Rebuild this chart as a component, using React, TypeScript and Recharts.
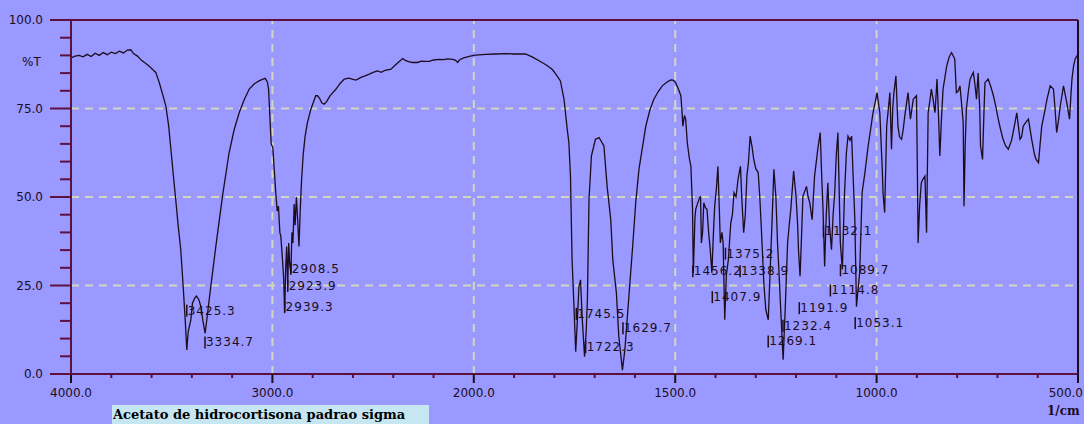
import React from "react";
import {
  ComposedChart,
  Line,
  Scatter,
  XAxis,
  YAxis,
  ReferenceLine,
} from "recharts";

// 4000-2000 cm-1 (compressed half of the axis)
const highWn = [
  4000, 3980, 3960, 3940, 3920, 3900, 3880, 3860, 3840, 3820, 3800, 3780, 3760, 3740, 3720, 3703,
  3690, 3670, 3650, 3630, 3610, 3595, 3579, 3560, 3545, 3529, 3515, 3504, 3490, 3480, 3468, 3455,
  3443, 3433, 3425, 3418, 3405, 3397, 3385, 3377, 3365, 3355, 3345, 3334, 3320, 3306, 3281, 3248,
  3215, 3190, 3165, 3140, 3115, 3090, 3066, 3050, 3036, 3025, 3019, 3012, 3006, 2998, 2990, 2983,
  2976, 2970, 2963, 2958, 2950, 2944, 2939, 2934, 2929, 2924, 2919, 2914, 2908, 2903, 2898, 2892,
  2887, 2881, 2875, 2868, 2862, 2855, 2847, 2838, 2826, 2809, 2795, 2785, 2776, 2765, 2755, 2743,
  2730, 2715, 2700, 2684, 2665, 2643, 2620, 2600, 2585, 2560, 2540, 2519, 2500, 2478, 2460, 2440,
  2411, 2395, 2370, 2353, 2340, 2320, 2304, 2280, 2260, 2240, 2221, 2200, 2171, 2150, 2130, 2105,
  2090, 2080, 2070, 2050, 2022, 2000,
];
const highT = [
  89.3, 89.8, 90.0, 89.6, 90.3, 89.7, 90.6, 90.0, 90.8, 90.2, 90.9, 90.5, 91.2, 90.7, 91.5, 91.6,
  90.5, 89.8, 88.6, 87.8, 86.9, 86.0, 85.2, 82, 79, 75.7, 70, 63.5, 55, 49.3, 42, 35.1,
  24.7, 15.3, 6.8, 12, 15.3, 20, 21.5, 22, 21, 19, 15, 11.5, 18, 24.7, 36, 50.2,
  62.5, 69, 73.8, 77.5, 80.5, 82, 82.8, 83.2, 83.5, 82.5, 80.5, 72, 65, 64, 57, 51,
  46, 47.4, 40, 38.9, 32.3, 27, 17.5, 30, 36, 24.5, 37, 31, 28.5, 40, 37, 48,
  42, 50, 44, 36, 46, 55, 62, 67, 71, 74.8, 77, 78.6, 78.6, 77.8, 76.6, 76.2,
  77, 78.5, 79.5, 80.5, 82, 83.3, 83.6, 83.2, 83, 83.8, 84.2, 84.7, 85.2, 85.6, 85.2, 85.8,
  86.1, 87, 88.3, 89.1, 88.6, 88.2, 88, 88, 88.4, 88.3, 88.3, 88.7, 88.9, 88.8, 89, 88.9,
  88.6, 88, 88.8, 89.3, 89.7, 90.0,
];

// 2000-1500 cm-1
const carbonylWn = [
  1996, 1970, 1946, 1920, 1900, 1872, 1855, 1838, 1820, 1805, 1795, 1785, 1776, 1768, 1764, 1760,
  1756, 1751, 1747, 1743, 1739, 1735, 1731, 1725, 1721, 1718, 1714, 1708, 1698, 1689, 1677, 1669,
  1660, 1655, 1646, 1640, 1631, 1625, 1615, 1605, 1598, 1590, 1580, 1573, 1563, 1553, 1542, 1532,
  1520, 1511, 1505, 1499,
];
const carbonylT = [
  90.1, 90.3, 90.4, 90.5, 90.4, 90.4, 89.6, 88.5, 87.3, 86, 84.5, 82.8, 77.6, 69.1, 65.4, 55.9,
  32.3, 18.1, 6.3, 15, 24.7, 26.6, 16, 4.9, 12, 21, 49.3, 61.6, 66.3, 66.8, 64.4, 53,
  43.6, 32.3, 22.9, 10.6, 1.1, 6.8, 21.9, 37, 48.4, 57.8, 65, 70, 74.5, 77.6, 79.8, 81.4,
  82.5, 83.1, 83, 82.3,
];

// 1500-500 cm-1 fingerprint region
const fingerWn = [
  1492, 1486, 1483, 1481, 1477, 1474, 1470, 1465, 1461, 1457, 1455, 1451, 1449, 1445, 1441, 1437,
  1435, 1432, 1429, 1425, 1421, 1417, 1413, 1409, 1405, 1402, 1398, 1394, 1390, 1388, 1384, 1381,
  1377, 1373, 1368, 1362, 1358, 1354, 1349, 1344, 1338, 1334, 1330, 1326, 1322, 1318, 1314, 1309,
  1305, 1300, 1294, 1290, 1286, 1280, 1275, 1269, 1264, 1260, 1255, 1250, 1246, 1242, 1238, 1232,
  1227, 1221, 1217, 1213, 1206, 1200, 1196, 1194, 1190, 1186, 1183, 1174, 1170, 1166, 1160, 1154,
  1146, 1140, 1136, 1133, 1129, 1125, 1121, 1117, 1112, 1108, 1104, 1100, 1096, 1090, 1085, 1080,
  1075, 1071, 1066, 1062, 1058, 1054, 1050, 1046, 1042, 1036, 1029, 1021, 1015, 1009, 1003, 999,
  992, 986, 984, 980, 977, 975, 967, 963, 960, 957, 952, 947, 943, 938, 934, 930,
  922, 916, 909, 901, 899, 897, 893, 889, 885, 880, 876, 872, 868, 864, 859, 855,
  850, 846, 843, 839, 835, 826, 820, 814, 806, 802, 797, 793, 788, 785, 783, 780,
  777, 772, 768, 760, 756, 752, 748, 744, 742, 737, 734, 731, 723, 716, 710, 704,
  698, 692, 686, 680, 673, 665, 658, 652, 648, 644, 640, 636, 630, 623, 615, 608,
  604, 598, 594, 590, 583, 577, 569, 561, 557, 553, 548, 544, 536, 528, 524, 521,
  518, 515, 511, 507, 500,
];
const fingerT = [
  80.5, 78.6, 74, 70, 73, 72, 65.4, 61, 58.7, 46.5, 28.5, 44, 46.5, 48, 49.3, 50.2,
  37, 40, 48.4, 47, 46.5, 40, 35.1, 28.6, 40, 47.4, 52, 58.7, 45, 37, 40, 37,
  15.3, 28, 32.3, 42.7, 45, 51.2, 50, 55, 58.7, 48, 39.9, 45, 55.9, 60, 67.2, 64,
  60.6, 58, 56.9, 50, 40.8, 25.7, 18.1, 15.3, 30, 41.7, 57.8, 50, 37, 28, 18.1, 4,
  18, 37, 42, 46.5, 57.3, 50.2, 42, 35.1, 27.6, 40, 50.2, 53, 50, 48.4, 43.6, 55.9,
  63.5, 68.2, 55, 46.5, 30.4, 45, 54, 42, 35.1, 45, 51.2, 62, 68.2, 37, 29.5, 50,
  62.5, 67.2, 66, 67.2, 55, 43.6, 19, 24, 28.6, 51.2, 56.9, 64.4, 69, 73.8, 77, 79.5,
  73.8, 58, 51.2, 45.6, 60, 70, 79.5, 63.5, 75, 79.5, 84.2, 70, 67, 66.3, 69, 72.9,
  79.5, 72, 77.6, 78.6, 60, 37, 48, 54, 55, 55.9, 39.9, 73.8, 77, 80.5, 77, 73.8,
  83.3, 72, 61.6, 72, 80.5, 87, 89.5, 90.8, 89, 79.5, 80, 81.4, 75, 71, 47.4, 65,
  75, 80, 83.3, 85.2, 82, 77.6, 85, 75, 64.4, 60.6, 72, 82.3, 83.3, 81, 78.6, 75.5,
  72, 69, 66.3, 64.5, 63.5, 66, 70, 73.8, 70, 66.3, 67, 70, 71, 72, 66.3, 62,
  60.6, 59.7, 65, 70, 74, 77.6, 81.4, 80.5, 75, 68.2, 72, 75.7, 81.4, 76.7, 74, 72,
  78, 83.3, 87, 89, 90.4,
];

// peak labels: wavenumber, %T where the label sits
const peakWn = [
  3425.3, 3334.7, 2908.5, 2923.9, 2939.3, 1745.5, 1722.3, 1629.7, 1456.2, 1375.2,
  1338.9, 1407.9, 1232.4, 1269.1, 1191.9, 1132.1, 1089.7, 1114.8, 1053.1,
];
const peakLabelT = [
  17.9, 8.9, 29.7, 24.9, 18.9, 17, 7.6, 12.9, 29, 34,
  29, 21.7, 13.6, 9.2, 18.6, 40.3, 29.3, 23.6, 14.4,
];

const yTicks = [0, 5, 10, 15, 20, 25, 30, 35, 40, 45, 50, 55, 60, 65, 70, 75, 80, 85, 90, 95, 100];
const xTicks = [
  0, 200, 400, 600, 800, 1000, 1200, 1400, 1600, 1800, 2000, 2200, 2400, 2600, 2800,
  3000, 3200, 3400, 3600, 3800, 4000, 4200, 4400, 4600, 4800, 5000,
];
const gridY = [25, 50, 75];
const gridWn = [3000, 2000, 1500, 1000];

// the scale doubles below 2000 cm-1, so plot on a piecewise-linear axis
const toPos = (wn: number) => (wn >= 2000 ? 4000 - wn : 2000 + (2000 - wn) * 2);
const fromPos = (p: number) => (p <= 2000 ? 4000 - p : 2000 - (p - 2000) / 2);

const spectrum = [
  ...highWn.map((w, i) => ({ x: toPos(w), T: highT[i] })),
  ...carbonylWn.map((w, i) => ({ x: toPos(w), T: carbonylT[i] })),
  ...fingerWn.map((w, i) => ({ x: toPos(w), T: fingerT[i] })),
];
const peaks = peakWn.map((w, i) => ({ x: toPos(w), T: peakLabelT[i], label: w.toFixed(1) }));

const AXIS = "#5c1040";
const INK = "#1c0c1c";
const GRID = "#d4d6c4";
const FONT = "'DejaVu Sans', sans-serif";

function YTick(props: any) {
  const { x, y, payload } = props;
  const major = payload.value % 25 === 0;
  return (
    <g>
      <line x1={x - (major ? 21 : 11)} x2={x} y1={y} y2={y} stroke={AXIS} strokeWidth={2} />
      {major && (
        <text x={x - 28} y={y} textAnchor="end" dominantBaseline="central" fontSize={12} fill={INK} fontFamily={FONT}>
          {payload.value.toFixed(1)}
        </text>
      )}
    </g>
  );
}

function XTick(props: any) {
  const { x, y, payload } = props;
  const major = payload.value % 1000 === 0;
  // last label is pushed inside the page edge
  const last = payload.value === 5000;
  return (
    <g>
      <line x1={x} x2={x} y1={y} y2={y + (major ? 9 : 4)} stroke={major ? INK : AXIS} strokeWidth={2} />
      {major && (
        <text
          x={last ? x + 5 : x}
          y={y + 19}
          textAnchor={last ? "end" : "middle"}
          dominantBaseline="central"
          fontSize={12}
          fill={INK}
          fontFamily={FONT}
        >
          {fromPos(payload.value).toFixed(1)}
        </text>
      )}
    </g>
  );
}

function PeakMark(props: any) {
  const { cx, cy, payload } = props;
  return (
    <g>
      <line x1={cx} x2={cx} y1={cy - 6} y2={cy + 6} stroke={INK} strokeWidth={1.5} />
      <text x={cx + 1} y={cy} dominantBaseline="central" fontSize={12} letterSpacing={1} fill={INK} fontFamily={FONT}>
        {payload.label}
      </text>
    </g>
  );
}

export default function App() {
  return (
    <div style={{ position: "absolute", left: 0, top: 0, width: 1084, height: 424, background: "#9999ff", overflow: "hidden" }}>
      <ComposedChart width={1084} height={424} data={spectrum} margin={{ top: 20, right: 6, bottom: 20, left: 0 }}>
        <XAxis
          dataKey="x"
          type="number"
          domain={[0, 5000]}
          ticks={xTicks}
          interval={0}
          height={30}
          tickSize={0}
          tickMargin={0}
          tick={<XTick />}
          axisLine={{ stroke: AXIS, strokeWidth: 2 }}
          allowDataOverflow
        />
        <YAxis
          type="number"
          domain={[0, 100]}
          ticks={yTicks}
          interval={0}
          width={71}
          tickSize={0}
          tickMargin={0}
          tick={<YTick />}
          axisLine={{ stroke: AXIS, strokeWidth: 2 }}
          allowDataOverflow
        />
        {gridY.map((v) => (
          <ReferenceLine key={"gy" + v} y={v} stroke={GRID} strokeWidth={2} strokeDasharray="8 6" />
        ))}
        {gridWn.map((w) => (
          <ReferenceLine key={"gx" + w} x={toPos(w)} stroke={GRID} strokeWidth={2} strokeDasharray="8 6" />
        ))}
        <ReferenceLine y={100} stroke={AXIS} strokeWidth={2} />
        <ReferenceLine x={5000} stroke={INK} strokeWidth={2} />
        <Line
          type="linear"
          dataKey="T"
          stroke={INK}
          strokeWidth={1.3}
          dot={false}
          isAnimationActive={false}
        />
        <Scatter data={peaks} dataKey="T" shape={<PeakMark />} isAnimationActive={false} />
      </ComposedChart>
      <div style={{ position: "absolute", left: 22, top: 55, fontSize: 12, fontFamily: FONT, color: INK }}>%T</div>
      <div style={{ position: "absolute", left: 1047, top: 404, fontSize: 12, fontWeight: "bold", fontFamily: "'DejaVu Serif', serif", color: INK }}>
        1/cm
      </div>
      <div
        style={{
          position: "absolute",
          left: 112,
          top: 405,
          width: 316,
          height: 19,
          lineHeight: "19px",
          background: "#c6e6f2",
          fontSize: 13,
          fontWeight: "bold",
          fontFamily: "'DejaVu Serif', serif",
          color: "#000",
          paddingLeft: 1,
          whiteSpace: "nowrap",
        }}
      >
        Acetato de hidrocortisona padrao sigma
      </div>
    </div>
  );
}
